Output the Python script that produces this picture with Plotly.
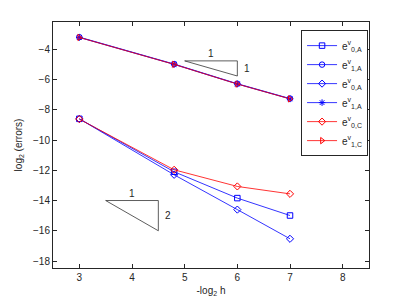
import plotly.graph_objects as go

x = [3, 4.8, 6, 7]
e0A_sq = [-8.6, -12.1, -13.84, -14.99]
e1A_ci = [-3.2, -4.98, -6.28, -7.26]
e0A_di = [-8.6, -12.3, -14.6, -16.53]
e1A_st = [-3.22, -5.0, -6.3, -7.28]
e0C_di = [-8.62, -11.97, -13.07, -13.56]
e1C_tr = [-3.22, -5.0, -6.3, -7.28]

series = [
    ("e<sup>v</sup><sub>0,A</sub>", e0A_sq, "blue", "square-open"),
    ("e<sup>v</sup><sub>1,A</sub>", e1A_ci, "blue", "circle-open"),
    ("e<sup>v</sup><sub>0,A</sub>", e0A_di, "blue", "diamond-open"),
    ("e<sup>v</sup><sub>1,A</sub>", e1A_st, "blue", "asterisk-open"),
    ("e<sup>v</sup><sub>0,C</sub>", e0C_di, "red", "diamond-open"),
    ("e<sup>v</sup><sub>1,C</sub>", e1C_tr, "red", "triangle-right-open"),
]

tri1_x = [5, 6, 6, 5]
tri1_y = [-4.77, -4.77, -5.77, -4.77]
tri2_x = [3.5, 4.5, 4.5, 3.5]
tri2_y = [-14.0, -14.0, -16.0, -14.0]

fig = go.Figure()
for name, ys, col, sym in series:
    fig.add_trace(go.Scatter(x=x, y=ys, mode="lines+markers", name=name,
                             line=dict(color=col, width=0.8),
                             marker=dict(symbol=sym, size=5.5, color=col,
                                         line=dict(color=col, width=1))))
for tx, ty in [(tri1_x, tri1_y), (tri2_x, tri2_y)]:
    fig.add_trace(go.Scatter(x=tx, y=ty, mode="lines", showlegend=False,
                             line=dict(color="#333333", width=0.8),
                             hoverinfo="skip"))

font = dict(family="Liberation Sans, Arial, sans-serif", size=10, color="#262626")
for txt, ax, ay, xa, ys in [("1", 5.5, -4.77, "center", 7), ("1", 6.08, -5.27, "left", 0),
                            ("1", 4.0, -14.0, "center", 7), ("2", 4.58, -15.0, "left", 0)]:
    fig.add_annotation(x=ax, y=ay, text=txt, showarrow=False, font=font,
                       yshift=ys, xanchor=xa)

axis_common = dict(showline=True, linecolor="#262626", linewidth=1, mirror="ticks",
                   ticks="inside", ticklen=4, tickcolor="#262626",
                   showgrid=False, zeroline=False, tickfont=font, automargin=False)
fig.update_layout(
    width=407, height=305,
    margin=dict(l=45, r=46, t=14, b=45),
    paper_bgcolor="white", plot_bgcolor="white",
    font=font,
    xaxis=dict(range=[2.5, 8.5], tickvals=[3, 4, 5, 6, 7, 8],
               title=dict(text="-log<sub>2</sub> h", font=font, standoff=4), **axis_common),
    yaxis=dict(range=[-18.46, -2.2], tickvals=[-18, -16, -14, -12, -10, -8, -6, -4],
               title=dict(text="log<sub>2</sub> (errors)", font=font, standoff=8), **axis_common),
    legend=dict(x=0.785, y=0.967, xanchor="left", yanchor="top",
                bordercolor="#262626", borderwidth=1, bgcolor="white",
                font=dict(family="Liberation Sans, Arial, sans-serif", size=10, color="#262626"),
                tracegroupgap=0, itemwidth=30, entrywidth=20),
)
fig.write_html("out.html")
